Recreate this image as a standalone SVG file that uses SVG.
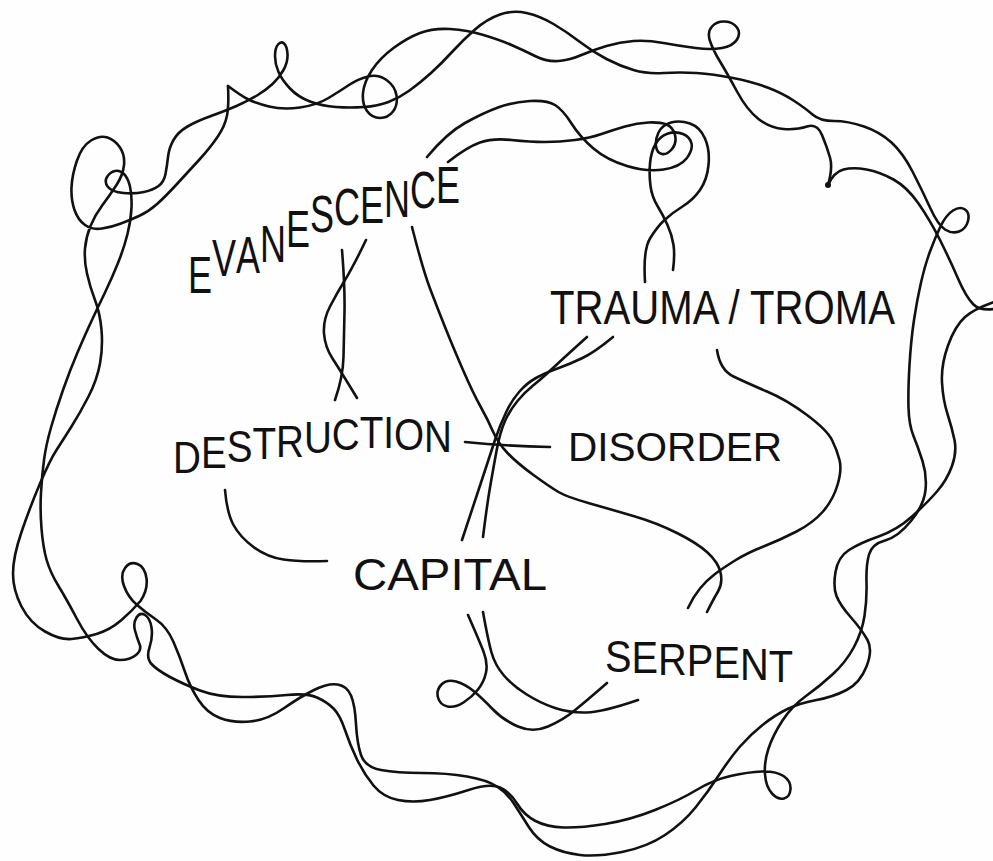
<svg xmlns="http://www.w3.org/2000/svg" width="993" height="861" viewBox="0 0 993 861">
<style>
.s{fill:none;stroke:#111;stroke-width:2.6;stroke-linecap:round;stroke-linejoin:round}
.t{font-family:"Liberation Sans",Arial,sans-serif;fill:#111;font-weight:normal}
</style>
<rect width="993" height="861" fill="#fefefe"/>
<g id="tangle">
<path class="s" d="M 46.5,559.5 Q 43,547 41.5,528.5 Q 40,510 41,492.5 Q 42,475 44,460 Q 46,445 51,427.5 Q 56,410 63,390 Q 70,370 77.5,352.5 Q 85,335 91.5,321 Q 98,307 105,292.5 Q 112,278 118,263 Q 124,248 127.5,234 Q 131,220 131.5,207.5 Q 132,195 130,186.5 Q 128,178 124,174 Q 120,170 115,171 Q 110,172 107,177 Q 104,182 108,187 Q 112,192 123.5,193 Q 135,194 144,192 Q 153,190 158.5,186 Q 164,182 165.5,174 Q 167,166 168,157 Q 169,148 173.5,140 Q 178,132 187.5,126.5 Q 197,121 211,116 Q 225,111 236.5,106 Q 248,101 257,95.5 Q 266,90 272.5,84 Q 279,78 283.5,70 Q 288,62 287.5,54 Q 287,46 284,43.5 Q 281,41 278,44.5 Q 275,48 275,56 Q 275,64 278.5,72 Q 282,80 290,88.5 Q 298,97 310,101.5 Q 322,106 336,107 Q 350,108 364,107 Q 378,106 388.5,102 Q 399,98 409.5,90.5 Q 420,83 431,73 Q 442,63 452.5,51.5 Q 463,40 475,29.5 Q 487,19 500,14.5 Q 513,10 526.5,13 Q 540,16 553.5,24 Q 567,32 580,42 Q 593,52 606.5,59 Q 620,66 633.5,70 Q 647,74 663.5,73 Q 680,72 696.5,73 Q 713,74 733,78 Q 753,82 767.5,87.5 Q 782,93 793.5,100.5 Q 805,108 812.5,114.5 Q 820,121 834,121 Q 848,121 864,126.5 Q 880,132 891.5,142.5 Q 903,153 912.5,171.5 Q 922,190 930,207.5 Q 938,225 945,229.5 Q 952,234 959,231.5 Q 966,229 968,221 Q 970,213 965,209.5 Q 960,206 953,210.5 Q 946,215 940.5,226.5 Q 935,238 930,251.5 Q 925,265 921,282.5 Q 917,300 914,320 Q 911,340 909.5,365 Q 908,390 908.5,407.5 Q 909,425 913.5,436 Q 918,447 922.5,461 Q 927,475 925.5,490 Q 924,505 911,521 Q 898,537 885,540.5 Q 872,544 869,554.5 Q 866,565 866.5,582.5 Q 867,600 864.5,616 Q 862,632 854,647 Q 846,662 833,674 Q 820,686 806,696 Q 792,706 782.5,720.5 Q 773,735 768.5,748.5 Q 764,762 765,774.5 Q 766,787 772,793.5 Q 778,800 784,798.5 Q 790,797 790.5,789 Q 791,781 783.5,776 Q 776,771 762,771.5 Q 748,772 730.5,776 Q 713,780 696.5,790 Q 680,800 655,810 Q 630,820 605,824 Q 580,828 563.5,827.5 Q 547,827 535.5,821 Q 524,815 517,803.5 Q 510,792 500,787.5 Q 490,783 468.5,790 Q 447,797 430,800 Q 413,803 398,800 Q 383,797 373.5,785.5 Q 364,774 357,759.5 Q 350,745 345,730 Q 340,715 333.5,708.5 Q 327,702 317,697.5 Q 307,693 287,695 Q 267,697 242,697 Q 217,697 200,690.5 Q 183,684 170,677 Q 157,670 151.5,664 Q 146,658 149.5,647.5 Q 153,637 151.5,627.5 Q 150,618 145,615 Q 140,612 136.5,617.5 Q 133,623 135,630.5 Q 137,638 139.5,644 Q 142,650 136,655 Q 130,660 120,660 Q 110,660 98.5,649 Q 87,638 77,619 Q 67,600 58.5,586 Q 50,572 46.5,559.5 Z"/>
<path class="s" d="M 828,185 Q 834,172 843.5,169.5 Q 853,167 866.5,169.5 Q 880,172 893.5,179.5 Q 907,187 918.5,203.5 Q 930,220 940,240 Q 950,260 958,278.5 Q 966,297 973.5,304.5 Q 981,312 1000,308"/>
<path class="s" d="M 1000,300 Q 975,308 965,317 Q 955,326 948,345.5 Q 941,365 942,382.5 Q 943,400 947.5,414 Q 952,428 954.5,440 Q 957,452 952,466 Q 947,480 937,491.5 Q 927,503 912,516.5 Q 897,530 878.5,536.5 Q 860,543 849,550 Q 838,557 835.5,572 Q 833,587 836.5,596 Q 840,605 851,617.5 Q 862,630 867.5,640 Q 873,650 866.5,666.5 Q 860,683 846.5,690 Q 833,697 816.5,700 Q 800,703 787.5,709 Q 775,715 762.5,725 Q 750,735 740,746.5 Q 730,758 719,775 Q 708,792 695.5,807.5 Q 683,823 665,835 Q 647,847 622,852 Q 597,857 580,855 Q 563,853 550,846.5 Q 537,840 528.5,826.5 Q 520,813 513.5,803 Q 507,793 497,786.5 Q 487,780 467,776.5 Q 447,773 422,773 Q 397,773 381,770 Q 365,767 361,755 Q 357,743 356,724 Q 355,705 351,695.5 Q 347,686 337.5,684.5 Q 328,683 314,690 Q 300,697 283.5,708.5 Q 267,720 250,721.5 Q 233,723 220,718 Q 207,713 198.5,700 Q 190,687 185,672 Q 180,657 173.5,642 Q 167,627 156,619.5 Q 145,612 136.5,604.5 Q 128,597 124,586 Q 120,575 125,568 Q 130,561 137.5,564 Q 145,567 146.5,578.5 Q 148,590 140.5,601 Q 131,612 121.5,620 Q 110,630 96.5,634 Q 83,638 71.5,639 Q 60,640 45,631.5 Q 30,623 21.5,606.5 Q 13,590 13,573.5 Q 13,557 21.5,532 Q 30,507 40,483.5 Q 50,460 56.5,450 Q 63,440 71.5,426.5 Q 80,413 88.5,396.5 Q 97,380 100,363.5 Q 103,347 101.5,330 Q 100,313 95,300 Q 90,287 87,273.5 Q 84,260 85,248.5 Q 86,237 90.5,226 Q 95,215 102.5,205 Q 110,195 116.5,185 Q 123,175 124,165 Q 125,155 120,147.5 Q 115,140 107.5,137.5 Q 100,135 91,140.5 Q 82,146 77,160.5 Q 72,175 71.5,187.5 Q 71,200 74.5,210 Q 78,220 85,225 Q 92,230 102,228.5 Q 112,227 121,223.5 Q 130,220 139,216 Q 148,212 156.5,204.5 Q 165,197 176.5,184.5 Q 188,172 199,160 Q 210,148 217.5,137 Q 225,126 227,115.5 Q 229,105 228,86"/>
<path class="s" d="M 228,86 Q 240,95 247.5,99 Q 255,103 269,106.5 Q 283,110 300,107.5 Q 317,105 328.5,98 Q 340,91 349,85 Q 358,79 368,76.5 Q 378,74 386.5,80 Q 395,86 396.5,95.5 Q 398,105 393,111.5 Q 388,118 380,118 Q 372,118 367,111 Q 362,104 363,93 Q 364,82 372,70 Q 380,58 393.5,48 Q 407,38 420,33 Q 433,28 450,29 Q 467,30 483.5,35 Q 500,40 511.5,45 Q 523,50 535,56 Q 547,62 558.5,61 Q 570,60 581.5,55 Q 593,50 606.5,46 Q 620,42 633.5,41 Q 647,40 663.5,43 Q 680,46 695.5,48 Q 711,50 722,48 Q 733,46 737,39.5 Q 741,33 737,27.5 Q 733,22 725,21.5 Q 717,21 712,26.5 Q 707,32 710,41 Q 713,50 720,61.5 Q 727,73 737,91.5 Q 747,110 758.5,119 Q 770,128 783.5,129 Q 797,130 807,126.5 Q 817,123 822,135 Q 827,147 830,157.5 Q 833,168 828,185"/>
<circle cx="828" cy="185" r="3" fill="#111"/>
</g>
<g id="connectors">
<path class="s" d="M 427,157 Q 447,133 465,123 Q 483,113 498,107.5 Q 513,102 530,101 Q 547,100 555,105 Q 563,110 571.5,123.5 Q 580,137 593.5,148.5 Q 607,160 627,166 Q 647,172 663.5,169.5 Q 680,167 686.5,158.5 Q 693,150 691.5,143.5 Q 690,137 683,134 Q 676,131 668,133.5 Q 660,136 655.5,144 Q 651,152 650,163.5 Q 649,175 650.5,186 Q 652,197 657.5,206 Q 663,215 667.5,225 Q 672,235 673.5,245 Q 675,255 673,270"/>
<path class="s" d="M 448,162 Q 467,147 480,142.5 Q 493,138 511.5,140 Q 530,142 545,142 Q 560,142 575,140 Q 590,138 601.5,134 Q 613,130 625,126.5 Q 637,123 648.5,122.5 Q 660,122 666.5,124.5 Q 673,127 675,135 Q 677,143 672,149 Q 667,155 662,154 Q 657,153 656,146.5 Q 655,140 658.5,132.5 Q 662,125 671,122.5 Q 680,120 690,123.5 Q 700,127 705,138.5 Q 710,150 708.5,165 Q 707,180 700,190 Q 693,200 682.5,206.5 Q 672,213 664.5,220 Q 657,227 650,238.5 Q 643,250 645,282"/>
<path class="s" d="M 342,250 Q 345,287 344.5,312 Q 344,337 343.5,357 Q 343,377 335,400"/>
<path class="s" d="M 366,240 Q 353,267 345,280 Q 337,293 330,306.5 Q 323,320 324,333.5 Q 325,347 332.5,358.5 Q 340,370 357,398"/>
<path class="s" d="M 412,227 Q 423,270 430,288.5 Q 437,307 445,327 Q 453,347 463,370 Q 473,393 480.5,406.5 Q 488,420 493,431.5 Q 498,443 507.5,453 Q 517,463 533.5,475 Q 550,487 558.5,492 Q 567,497 590,503.5 Q 613,510 635,516.5 Q 657,523 677,533 Q 697,543 707.5,552.5 Q 718,562 720.5,572.5 Q 723,583 718,591.5 Q 713,600 707,612"/>
<path class="s" d="M 465,442 Q 505,446 550,447"/>
<path class="s" d="M 587,337 Q 567,355 560,361.5 Q 553,368 546.5,374 Q 540,380 532.5,386 Q 525,392 517.5,401 Q 510,410 505,421 Q 500,432 496.5,451 Q 493,470 490,487.5 Q 487,505 483,537"/>
<path class="s" d="M 613,337 Q 595,352 582.5,358 Q 570,364 557.5,368.5 Q 545,373 536,378 Q 527,383 519.5,391.5 Q 512,400 506,412.5 Q 500,425 495,440 Q 490,455 483.5,475 Q 477,495 462,540"/>
<path class="s" d="M 717,350 Q 720,370 733.5,376.5 Q 747,383 767,391.5 Q 787,400 807,415 Q 827,430 832,440 Q 837,450 839.5,460 Q 842,470 837.5,485 Q 833,500 823,511.5 Q 813,523 796.5,531.5 Q 780,540 763.5,546.5 Q 747,553 735,560.5 Q 723,568 715,574 Q 707,580 700,588.5 Q 693,597 688,608"/>
<path class="s" d="M 225,490 Q 227,513 233.5,525 Q 240,537 253.5,547 Q 267,557 283.5,559.5 Q 300,562 327,561"/>
<path class="s" d="M 468,615 Q 479,640 483.5,651.5 Q 488,663 486,672.5 Q 484,682 478,689.5 Q 472,697 463.5,702.5 Q 455,708 447.5,706.5 Q 440,705 438,697.5 Q 436,690 441.5,684.5 Q 447,679 456,681.5 Q 465,684 473.5,691 Q 482,698 492.5,709 Q 503,720 518,726.5 Q 533,733 548,726.5 Q 563,720 574,711 Q 585,702 596,692.5 L 607,683"/>
<path class="s" d="M 483,612 Q 488,640 491.5,652.5 Q 495,665 503.5,675 Q 512,685 526,694 Q 540,703 555,708 Q 570,713 586.5,712.5 Q 603,712 638,700"/>
</g>
<g id="evanescence"><text class="t" x="188" y="293 276 273 262 247 232 225 223 217 208 203" font-size="52" textLength="272" lengthAdjust="spacingAndGlyphs">EVANESCENCE</text></g>
<g id="trauma"><text class="t" x="550" y="324" font-size="48" textLength="345" lengthAdjust="spacingAndGlyphs">TRAUMA / TROMA</text></g>
<g id="destruction"><text class="t" x="173" y="473 468 462 459 457 453 450 448 448 450 452" font-size="44" textLength="279" lengthAdjust="spacingAndGlyphs">DESTRUCTION</text></g>
<g id="disorder"><text class="t" x="568" y="461" font-size="40" textLength="214" lengthAdjust="spacingAndGlyphs">DISORDER</text></g>
<g id="capital"><text class="t" x="353" y="590" font-size="44" textLength="194" lengthAdjust="spacingAndGlyphs">CAPITAL</text></g>
<g id="serpent"><text class="t" x="605" y="672 673 675 676 678 680 682" font-size="44" textLength="188" lengthAdjust="spacingAndGlyphs">SERPENT</text></g>
</svg>
